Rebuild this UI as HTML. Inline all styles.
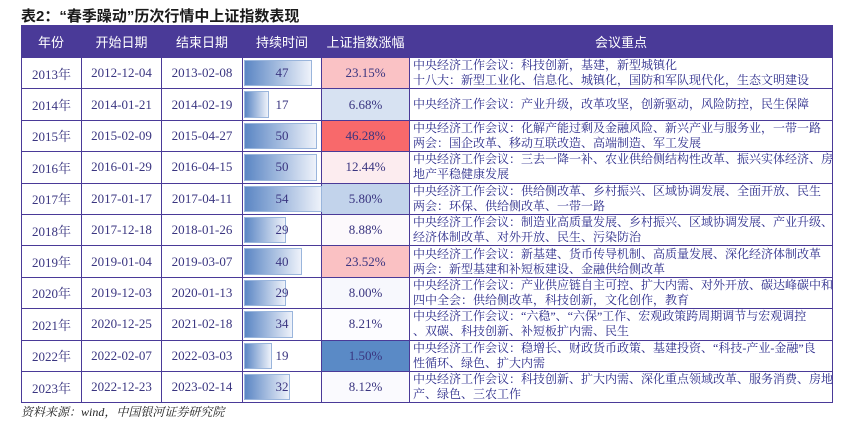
<!DOCTYPE html>
<html><head><meta charset="utf-8">
<style>
body{margin:0;width:855px;height:425px;background:#fff;overflow:hidden;position:relative;font-family:"Liberation Serif","Noto Serif CJK SC",serif;color:#3a3580}
#title{position:absolute;left:21px;top:5px;font:bold 15px "Liberation Sans","Noto Sans CJK SC",sans-serif;color:#1a1a1a}
#src{position:absolute;left:21px;top:403px;font:italic 12px "Liberation Serif","Noto Serif CJK SC",serif;color:#222}
.c{position:absolute;box-sizing:border-box;border-right:1px solid #4a3a98;border-bottom:1px solid #4a3a98;display:flex;align-items:center;justify-content:center;font-size:13px}
.h{background:#4a3a98;color:#fff;font-family:"Liberation Sans","Noto Sans CJK SC",sans-serif;font-size:13px;border-color:#4a3a98}
.t{justify-content:flex-start;padding-left:3px;line-height:15px;font-size:12px;color:#2a2a8a;white-space:pre}
.bar{position:absolute;left:1px;top:2px;bottom:2px;background:linear-gradient(90deg,#5b86c4,#eef2fa);border:1px solid #9ab5dc;box-sizing:border-box}
</style></head><body>
<div id="title">表2：“春季躁动”历次行情中上证指数表现</div>
<div id="tbl"></div>
<div id="src">资料来源：wind，中国银河证券研究院</div>
<script>
const years=["2013年","2014年","2015年","2016年","2017年","2018年","2019年","2020年","2021年","2022年","2023年"];
const starts=["2012-12-04","2014-01-21","2015-02-09","2016-01-29","2017-01-17","2017-12-18","2019-01-04","2019-12-03","2020-12-25","2022-02-07","2022-12-23"];
const ends=["2013-02-08","2014-02-19","2015-04-27","2016-04-15","2017-04-11","2018-01-26","2019-03-07","2020-01-13","2021-02-18","2022-03-03","2023-02-14"];
const durations=[47,17,50,50,54,29,40,29,34,19,32];
const gains=[23.15,6.68,46.28,12.44,5.80,8.88,23.52,8.00,8.21,1.50,8.12];
const notes=["中央经济工作会议：科技创新，基建，新型城镇化\n十八大：新型工业化、信息化、城镇化，国防和军队现代化，生态文明建设","中央经济工作会议：产业升级，改革攻坚，创新驱动，风险防控，民生保障","中央经济工作会议：化解产能过剩及金融风险、新兴产业与服务业，一带一路\n两会：国企改革、移动互联改造、高端制造、军工发展","中央经济工作会议：三去一降一补、农业供给侧结构性改革、振兴实体经济、房\n地产平稳健康发展","中央经济工作会议：供给侧改革、乡村振兴、区域协调发展、全面开放、民生\n两会：环保、供给侧改革、一带一路","中央经济工作会议：制造业高质量发展、乡村振兴、区域协调发展、产业升级、\n经济体制改革、对外开放、民生、污染防治","中央经济工作会议：新基建、货币传导机制、高质量发展、深化经济体制改革\n两会：新型基建和补短板建设、金融供给侧改革","中央经济工作会议：产业供应链自主可控、扩大内需、对外开放、碳达峰碳中和\n四中全会：供给侧改革，科技创新，文化创作，教育","中央经济工作会议：“六稳”、“六保”工作、宏观政策跨周期调节与宏观调控\n、双碳、科技创新、补短板扩内需、民生","中央经济工作会议：稳增长、财政货币政策、基建投资、“科技-产业-金融”良\n性循环、绿色、扩大内需","中央经济工作会议：科技创新、扩大内需、深化重点领域改革、服务消费、房地\n产、绿色、三农工作"];
const headers=["年份","开始日期","结束日期","持续时间","上证指数涨幅","会议重点"];
const colX=[21,82,162,243,322,410,833];
const top0=25,hH=33,rH=31.4;
const T=document.getElementById('tbl');
const pxPerDay=1.45;
const gMin=Math.min(...gains),gMax=Math.max(...gains);
const sorted=[...gains].sort((a,b)=>a-b);const gMid=sorted[Math.floor(sorted.length/2)];
function mix(a,b,t){return 'rgb('+a.map((v,i)=>Math.round(v+(b[i]-v)*t)).join(',')+')';}
function gColor(v){const W=[252,252,255],B=[90,138,198],R=[248,105,107];
 if(v<=gMid)return mix(W,B,(gMid-v)/(gMid-gMin));return mix(W,R,(v-gMid)/(gMax-gMid));}
function cell(x,y,w,h,cls){const d=document.createElement('div');d.className='c '+cls;
 d.style.left=x+'px';d.style.top=y+'px';d.style.width=w+'px';d.style.height=h+'px';T.appendChild(d);return d;}
headers.forEach((h,i)=>{const d=cell(colX[i],top0,colX[i+1]-colX[i],hH,'h');d.textContent=h;
 
 });
years.forEach((yr,r)=>{const y=top0+hH+r*rH;
 const vals=[yr,starts[r],ends[r]];
 vals.forEach((v,i)=>{const d=cell(colX[i],y,colX[i+1]-colX[i],rH,'');d.textContent=v;
  if(i==0)d.style.borderLeft='1px solid #4a3a98';
  
  });
 const dc=cell(colX[3],y,colX[4]-colX[3],rH,'');
 
 
 const b=document.createElement('div');b.className='bar';b.style.width=(durations[r]*pxPerDay)+'px';
 
 
 dc.appendChild(b);const s=document.createElement('span');s.style.position='relative';s.textContent=durations[r];dc.appendChild(s);
 const gc=cell(colX[4],y,colX[5]-colX[4],rH,'');gc.textContent=gains[r].toFixed(2)+'%';gc.style.background=gColor(gains[r]);
 
 
 const nc=cell(colX[5],y,colX[6]-colX[5],rH,'t');nc.textContent=notes[r];
 
 
});
</script>
</body></html>
